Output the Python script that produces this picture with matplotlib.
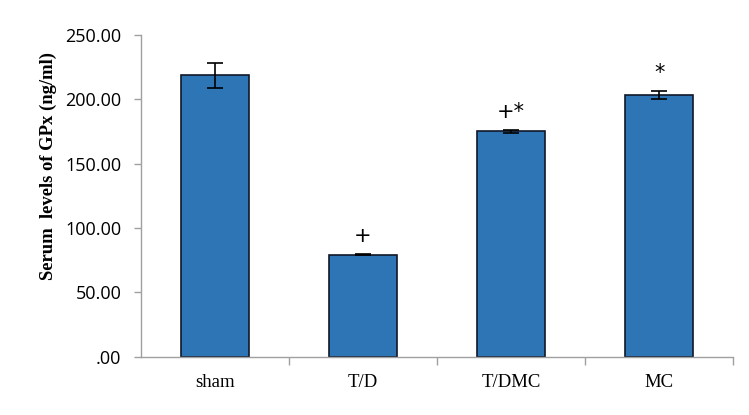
import matplotlib.pyplot as plt
from matplotlib.ticker import FuncFormatter

groups = ["sham", "T/D", "T/DMC", "MC"]
gpx = [218.5, 79.3, 175.3, 203.3]
gpx_err = [10.0, 0.5, 1.2, 3.0]
marks = ["", "+", "+*", "*"]

fig = plt.figure(figsize=(7.49, 4.15), dpi=100)
ax = fig.add_axes([0.188, 0.140, 0.791, 0.776])

x = range(len(groups))
ax.bar(x, gpx, width=0.46, color="#2E75B6", edgecolor="#111827", linewidth=1.2,
       yerr=gpx_err, error_kw=dict(ecolor="black", elinewidth=1.2, capsize=6, capthick=1.2))

for i, m in enumerate(marks):
    if m:
        ax.text(i, gpx[i] + gpx_err[i] + 6, m, ha="center", va="bottom",
                fontsize=15, family="DejaVu Sans")

ax.set_xlim(-0.5, 3.5)
ax.set_ylim(0, 250)
ax.set_yticks([0, 50, 100, 150, 200, 250])

def fmt(v, pos):
    return ".00" if v == 0 else "%.2f" % v

ax.yaxis.set_major_formatter(FuncFormatter(fmt))
ax.set_xticks(list(x))
ax.set_xticklabels(groups, family="Liberation Serif", fontsize=13.5)
ax.set_xticks([0.5, 1.5, 2.5, 3.5], minor=True)
ax.tick_params(axis="x", which="major", length=0, pad=12)
ax.tick_params(axis="x", which="minor", length=6, color="#A0A0A0", width=1)
ax.tick_params(axis="y", length=5, color="#A0A0A0", width=1, pad=9)
for lab in ax.get_yticklabels():
    lab.set_family("Open Sans")
    lab.set_fontsize(13)

for side in ["top", "right"]:
    ax.spines[side].set_visible(False)
for side in ["left", "bottom"]:
    ax.spines[side].set_color("#A0A0A0")
    ax.spines[side].set_linewidth(1)

ax.set_ylabel("Serum  levels of GPx (ng/ml)", family="Liberation Serif",
              fontweight="bold", fontsize=13.4)
ax.yaxis.set_label_coords(-0.142, 0.593)

fig.savefig("out.png", dpi=100)
